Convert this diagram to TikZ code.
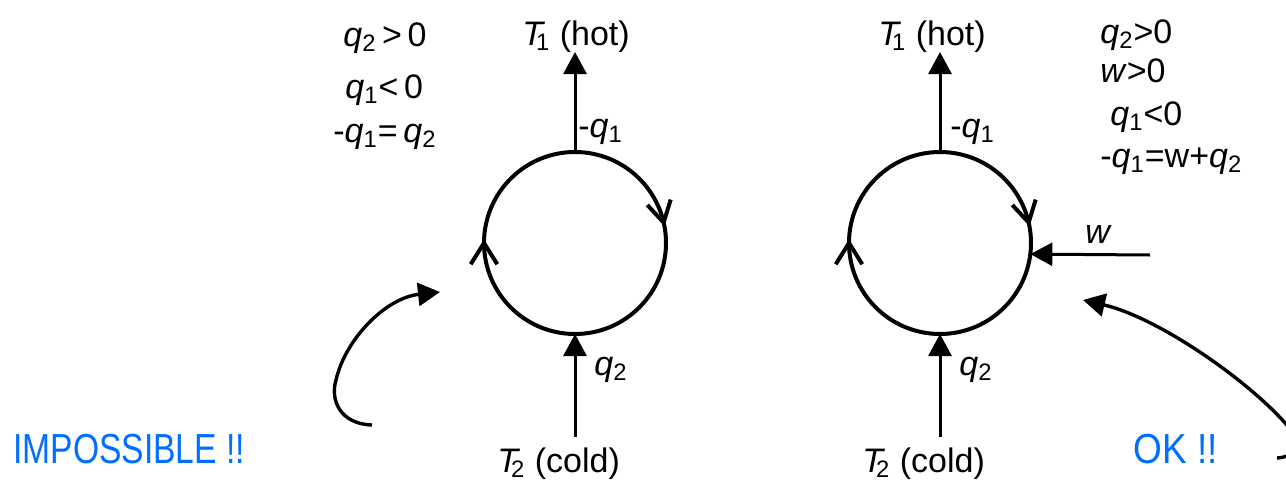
\documentclass[tikz,border=0pt]{standalone}
\usepackage{fontspec}
\setmainfont{Liberation Sans}
\newfontfamily\narrowfont{Liberation Sans}[FakeStretch=0.8]
\newfontfamily\oknarrowfont{Liberation Sans}[FakeStretch=0.88]
\usetikzlibrary{arrows.meta,calc}
\definecolor{okblue}{RGB}{0,110,255}
\newcommand{\sbs}[1]{\textsubscript{#1}}
\newcommand{\qv}{\textit{q}}
\newcommand{\Tv}{\textit{T}\kern-4.5pt}
\tikzset{
  cyc/.style={circle,draw,line width=2pt,minimum size=91pt,inner sep=0pt,outer sep=0pt},
  flow/.style={line width=1.5pt,-{Triangle[length=11pt,width=11.5pt]}},
  curvy/.style={line width=1.7pt,-{Triangle[length=11pt,width=11.5pt]}},
  chev/.style={line width=2pt},
  lbl/.style={inner sep=0pt,anchor=base west,font=\fontsize{17pt}{20pt}\selectfont},
  eq/.style={inner sep=0pt,anchor=base west,font=\fontsize{17pt}{20pt}\selectfont},
  verdict/.style={inner sep=0pt,anchor=base west,text=okblue,font=\narrowfont\fontsize{21pt}{25pt}\selectfont}
}
\begin{document}
\begin{tikzpicture}[x=0.5pt,y=-0.5pt]
\useasboundingbox (0,0) rectangle (1286,483);
\clip (0,0) rectangle (1286,483);
% ---------- left cycle ----------
\node[cyc] (c1) at (575,243) {};
\coordinate (t1tip) at (575,52);
\coordinate (b1) at (575,437);
\draw[flow] (c1.north) -- (t1tip);
\draw[flow] (b1) -- (c1.south);
\draw[chev] (c1.13) ++(-73:24) -- (c1.13) -- ++(-133:24);
\draw[chev] (c1.180) ++(58:25) -- (c1.180) -- ++(122:25);
\node[lbl] (T1L) at (522,45) {\Tv\sbs{1} (hot)};
\node[lbl] (mq1L) at (578,137) {-\qv\sbs{1}};
\node[lbl] (q2L) at (594,375) {\qv\sbs{2}};
\node[lbl] (T2L) at (497,472) {\Tv\sbs{2} (cold)};
\node[eq] (eL1) at (343,46) {\qv\sbs{2}\,>\,0};
\node[eq] (eL2) at (345,98) {\qv\sbs{1}<\,0};
\node[eq] (eL3) at (333,142) {-\qv\sbs{1}=\,\qv\sbs{2}};
\node[verdict] (imp) at (13,463) {IMPOSSIBLE !!};
\coordinate (aL0) at (372,425);
\coordinate (aL1) at (440,292);
\draw[curvy] (aL0) .. controls (340,424) and (330,400) .. (336,380) .. controls (345,340) and (385,298) .. (aL1);
% ---------- right cycle ----------
\node[cyc] (c2) at (940,243) {};
\coordinate (t2tip) at (940,52);
\coordinate (b2) at (940,437);
\draw[flow] (c2.north) -- (t2tip);
\draw[flow] (b2) -- (c2.south);
\draw[chev] (c2.13) ++(-73:24) -- (c2.13) -- ++(-133:24);
\draw[chev] (c2.180) ++(58:25) -- (c2.180) -- ++(122:25);
\coordinate (wS) at (1150,255);
\draw[flow] (wS) -- (c2.-7.5);
\node[lbl] (wl) at (1085,243) {\textit{w}};
\node[lbl] (T1R) at (878,45) {\Tv\sbs{1} (hot)};
\node[lbl] (mq1R) at (950,137) {-\qv\sbs{1}};
\node[lbl] (q2R) at (959,375) {\qv\sbs{2}};
\node[lbl] (T2R) at (862,472) {\Tv\sbs{2} (cold)};
\node[eq] (eR1) at (1100,43) {\qv\sbs{2}>0};
\node[eq] (eR2) at (1100,82) {\textit{w}>0};
\node[eq] (eR3) at (1110,125) {\qv\sbs{1}<0};
\node[eq] (eR4) at (1100,167) {-\qv\sbs{1}=w+\qv\sbs{2}};
\node[verdict,font=\oknarrowfont\fontsize{21pt}{25pt}\selectfont] (ok) at (1133,463) {OK !!};
\coordinate (aR0) at (1277,458);
\coordinate (aR1) at (1083,300);
\draw[curvy] (aR0) .. controls (1296,457) and (1300,444) .. (1291,430) .. controls (1255,385) and (1160,318) .. (aR1);
\end{tikzpicture}
\end{document}
